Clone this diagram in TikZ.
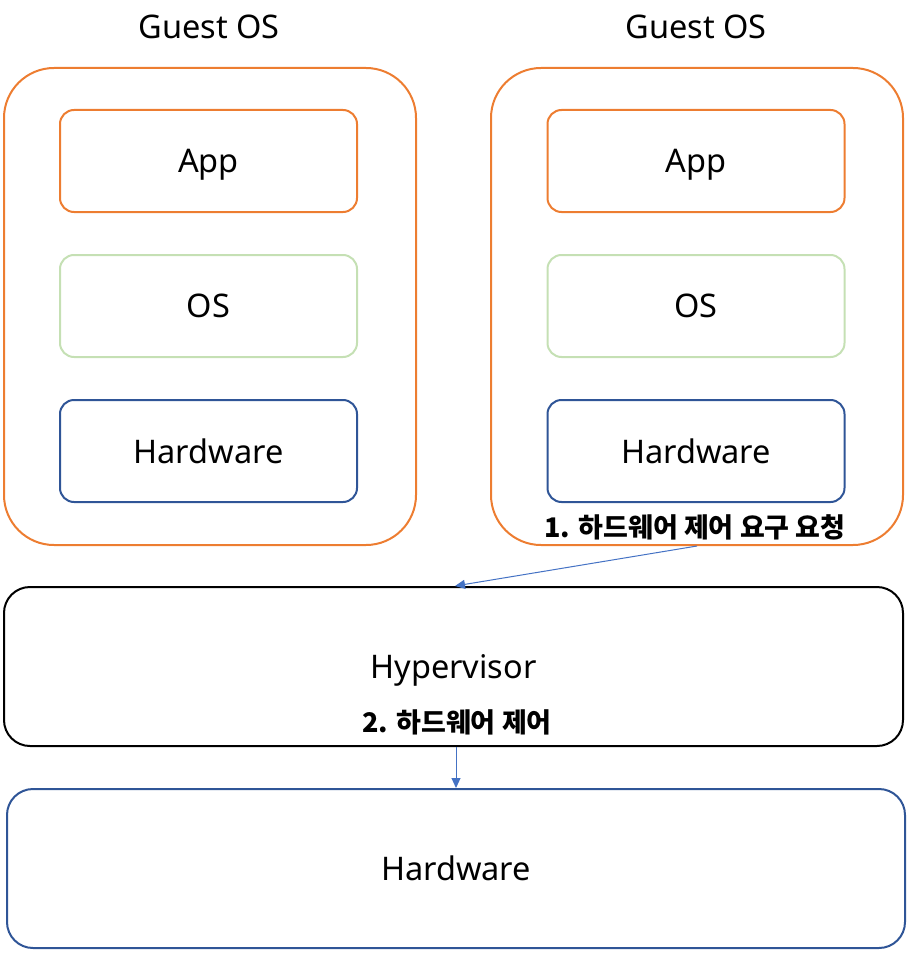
\documentclass[tikz,border=0pt]{standalone}
\usepackage{fontspec}
\setmainfont{Noto Sans}
\newfontfamily\kr{Noto Sans CJK KR}
\usetikzlibrary{arrows.meta,calc}
\definecolor{orng}{HTML}{ED7D31}
\definecolor{lgreen}{HTML}{C5E0B4}
\definecolor{dblue}{HTML}{2F5597}
\definecolor{ablue}{HTML}{4472C4}
\begin{document}
\begin{tikzpicture}[x=1pt,y=-1pt,
  box/.style={draw, rectangle, line width=2pt, inner sep=0pt, text depth=0pt, font=\fontsize{32.5}{40}\selectfont},
  outer/.style={box, draw=orng, rounded corners=50pt, minimum width=412pt, minimum height=477pt},
  inner/.style={box, rounded corners=14pt, minimum width=297pt, minimum height=102pt},
  wide/.style={box, rounded corners=26pt, minimum width=899pt, minimum height=159pt},
  title/.style={font=\fontsize{32.5}{40}\selectfont, inner sep=0pt, text depth=0pt},
  lbl/.style={font=\kr\bfseries\fontsize{27}{32}\selectfont, inner sep=0pt},
  arr/.style={draw=ablue, line width=1pt, -{Triangle[length=10pt,width=9pt]}}]
\useasboundingbox (0,0) rectangle (911,960);
% guest OS containers
\node[outer] (lg) at (210,306.5) {};
\node[outer] (rg) at (697,306.5) {};
\node[title] (lgt) at (209,27) {Guest OS};
\node[title] (rgt) at (696,27) {Guest OS};
% left stack
\node[inner, draw=orng] (lapp) at (208.5,161) {App};
\node[inner, draw=lgreen] (los) at (208.5,306) {OS};
\node[inner, draw=dblue] (lhw) at (208.5,451) {Hardware};
% right stack
\node[inner, draw=orng] (rapp) at (696,161) {App};
\node[inner, draw=lgreen] (ros) at (696,306) {OS};
\node[inner, draw=dblue] (rhw) at (696,451) {Hardware};
% hypervisor and hardware
\node[wide, draw=black] (hyp) at (453.5,666.5) {Hypervisor};
\node[wide, draw=dblue, minimum width=898pt] (hw) at (456,868.5) {Hardware};
% labels
\node[lbl] (l1) at (695,527) {1. 하드웨어 제어 요구 요청};
\node[lbl] (l2) at (457,722) {2. 하드웨어 제어};
% arrows
\draw[arr] (rg.south) -- ($(hyp.north)+(1.5,0)$);
\draw[arr] (hyp.south -| hw.north) -- (hw.north);
\end{tikzpicture}
\end{document}
